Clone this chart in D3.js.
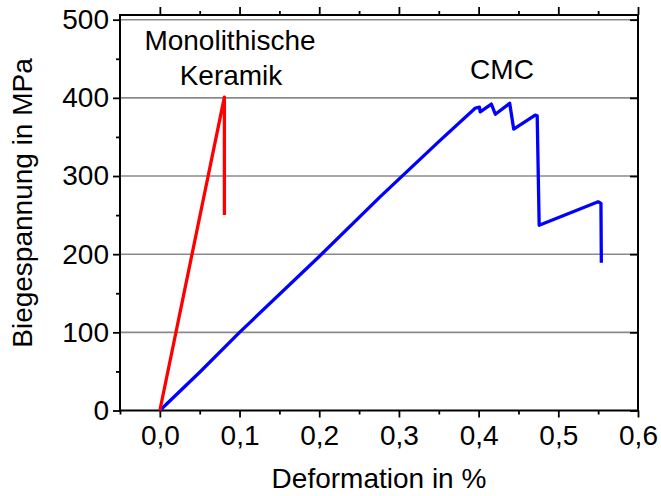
<!DOCTYPE html>
<html><head><meta charset="utf-8">
<script src="https://cdn.jsdelivr.net/npm/d3@7"></script>
<style>body{margin:0;background:#fff}svg{display:block}text{font-family:"Liberation Sans",Arial,sans-serif;fill:#000}</style>
</head><body><svg id="c" width="661" height="496"></svg>
<script>
const xTicks = [0, 0.1, 0.2, 0.3, 0.4, 0.5, 0.6];
const xMinorTicks = [-0.05, 0.05, 0.15, 0.25, 0.35, 0.45, 0.55];
const yTicks = [0, 100, 200, 300, 400, 500];
const yMinorTicks = [50, 150, 250, 350, 450];
const keramikX = [0, 0.081, 0.081];
const keramikY = [0, 401, 250];
const cmcX = [0, 0.05, 0.1, 0.2, 0.276, 0.35, 0.396, 0.401, 0.402, 0.416, 0.421, 0.439, 0.444, 0.471, 0.4735, 0.476, 0.550, 0.5535, 0.554];
const cmcY = [0, 49, 100, 197, 273, 344, 387, 388, 382, 392, 379, 393, 360, 378, 377, 237, 267, 265, 189];

const svg = d3.select("#c");
const L = 120, R = 638, T = 15, B = 410.5;
const FS = "28px";
const x = d3.scaleLinear().domain([-0.05, 0.6]).range([L, R]);
const y = d3.scaleLinear().domain([0, 506]).range([B, T]);
const fmt = d => d3.format(".1f")(d).replace(".", ",");

// grid
svg.append("g").selectAll("line").data(yTicks.filter(d => d > 0)).join("line")
  .attr("x1", L).attr("x2", R).attr("y1", d => y(d)).attr("y2", d => y(d))
  .attr("stroke", "#8a8a8a").attr("stroke-width", 1.6);

function styleAxis(g) {
  g.select(".domain").remove();
  g.selectAll("line").attr("stroke", "#000").attr("stroke-width", 1.8);
  g.selectAll("text").style("font-size", FS).style("font-family", "'Liberation Sans', Arial, sans-serif");
}

// bottom
svg.append("g").attr("transform", `translate(0,${B})`)
  .call(d3.axisBottom(x).tickValues(xTicks).tickFormat(fmt).tickSize(7).tickPadding(8)).call(styleAxis);
svg.append("g").attr("transform", `translate(0,${B})`)
  .call(d3.axisBottom(x).tickValues(xMinorTicks).tickFormat("").tickSize(4)).call(styleAxis);
// top
svg.append("g").attr("transform", `translate(0,${T})`)
  .call(d3.axisTop(x).tickValues(xTicks).tickFormat("").tickSize(8)).call(styleAxis);
svg.append("g").attr("transform", `translate(0,${T})`)
  .call(d3.axisTop(x).tickValues(xMinorTicks.filter(d => d > -0.05)).tickFormat("").tickSize(4)).call(styleAxis);
// left
svg.append("g").attr("transform", `translate(${L},0)`)
  .call(d3.axisLeft(y).tickValues(yTicks).tickFormat(d3.format("d")).tickSize(7).tickPadding(4)).call(styleAxis);
svg.append("g").attr("transform", `translate(${L},0)`)
  .call(d3.axisLeft(y).tickValues(yMinorTicks).tickFormat("").tickSize(4)).call(styleAxis);
// right (inward)
svg.append("g").attr("transform", `translate(${R},0)`)
  .call(d3.axisLeft(y).tickValues(yTicks).tickFormat("").tickSize(8)).call(styleAxis);

// frame
svg.append("rect").attr("x", L).attr("y", T).attr("width", R - L).attr("height", B - T)
  .attr("fill", "none").attr("stroke", "#000").attr("stroke-width", 2);

const line = d3.line().x(d => x(d[0])).y(d => y(d[1]));
svg.append("path").datum(cmcX.map((v, i) => [v, cmcY[i]])).attr("d", line)
  .attr("fill", "none").attr("stroke", "#0000ff").attr("stroke-width", 3.3).attr("stroke-linejoin", "round");
svg.append("path").datum(keramikX.map((v, i) => [v, keramikY[i]])).attr("d", line)
  .attr("fill", "none").attr("stroke", "#ff0000").attr("stroke-width", 3.3).attr("stroke-linejoin", "round");

// labels
const lab = (t, px, py) => svg.append("text").attr("x", px).attr("y", py).attr("text-anchor", "middle").style("font-size", FS).text(t);
lab("Monolithische", 230, 50);
lab("Keramik", 231, 85);
lab("CMC", 502, 79);
lab("Deformation in %", (L + R) / 2, 488);
svg.append("text").attr("transform", "translate(32,203) rotate(-90)").attr("text-anchor", "middle")
  .style("font-size", FS).text("Biegespannung in MPa");
</script></body></html>
